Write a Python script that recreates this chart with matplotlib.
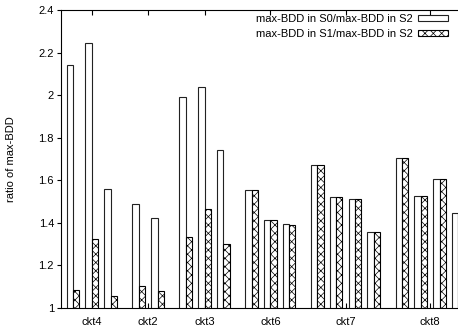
import matplotlib
matplotlib.use('Agg')
import matplotlib.pyplot as plt

plt.rcParams['font.family'] = ['Liberation Sans', 'DejaVu Sans']
plt.rcParams['hatch.linewidth'] = 0.5

# ---- data ----
groups = ['ckt4', 'ckt2', 'ckt3', 'ckt6', 'ckt7', 'ckt8']
s0_ratio = [
    [2.14, 2.245, 1.56],
    [1.49, 1.425],
    [1.99, 2.04, 1.74],
    [1.555, 1.415, 1.395],
    [1.672, 1.522, 1.51, 1.356],
    [1.705, 1.527, 1.608, 1.447],
]
s1_ratio = [
    [1.085, 1.323, 1.056],
    [1.105, 1.082],
    [1.332, 1.463, 1.303],
    [1.555, 1.415, 1.392],
    [1.672, 1.522, 1.51, 1.356],
    [1.705, 1.527, 1.608, 1.447],
]
yticks = [1, 1.2, 1.4, 1.6, 1.8, 2, 2.2, 2.4]
ytick_labels = ['1', '1.2', '1.4', '1.6', '1.8', '2', '2.2', '2.4']
label_s0 = 'max-BDD in S0/max-BDD in S2'
label_s1 = 'max-BDD in S1/max-BDD in S2'

# ---- figure ----
fig = plt.figure(figsize=(4.58, 3.28), dpi=100)
ax = fig.add_axes([61 / 458, 20 / 328, 405 / 458, 298 / 328])

w = 1 / 3
group_gap = 0.5
pos = 0.0
tick_pos = []
first = True
for name, a, b in zip(groups, s0_ratio, s1_ratio):
    xs = [pos + i for i in range(len(a))]
    ax.bar(xs, a, width=w, align='edge', facecolor='white', edgecolor='#222222',
           linewidth=0.8, label=label_s0 if first else None)
    ax.bar([x + w for x in xs], b, width=w, align='edge', facecolor='white',
           edgecolor='black', hatch='xxxx', linewidth=0.8,
           label=label_s1 if first else None)
    first = False
    tick_pos.append(sum(x + w for x in xs) / len(xs))
    pos = xs[-1] + 1 + group_gap

ax.set_xlim(-0.3, 21.24)
ax.set_ylim(1, 2.4)
ax.set_xticks(tick_pos)
ax.set_xticklabels(groups, fontsize=8)
ax.set_yticks(yticks)
ax.set_yticklabels(ytick_labels, fontsize=8)
ax.tick_params(axis='x', direction='in', top=True, bottom=True, length=3.5,
               width=0.8, pad=6.5)
ax.tick_params(axis='y', direction='out', left=True, right=False, length=3,
               width=0.8, pad=2)
ax.set_ylabel('ratio of max-BDD', fontsize=8, labelpad=16)
for sp in ax.spines.values():
    sp.set_linewidth(0.8)

ax.legend(loc='upper right', bbox_to_anchor=((448 - 61) / 405, 0.986),
          frameon=False, markerfirst=False, fontsize=8, handlelength=2.7,
          handleheight=0.45, handletextpad=0.45, labelspacing=0.4,
          borderpad=0, borderaxespad=0)

fig.savefig('out.png', dpi=100)
